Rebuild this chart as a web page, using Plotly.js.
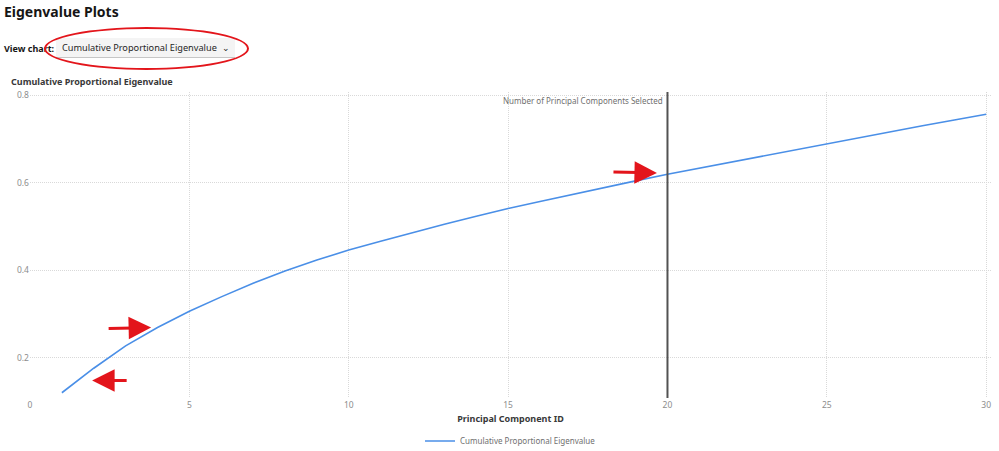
<!DOCTYPE html>
<html>
<head>
<meta charset="utf-8">
<script src="https://cdn.plot.ly/plotly-3.0.1.min.js"></script>
<style>
  body { margin: 0; background: #fff; font-family: "Noto Sans", sans-serif; }
  #wrap { position: relative; width: 999px; height: 451px; overflow: hidden; }
  #chart { position: absolute; left: 0; top: 0; width: 999px; height: 451px; }
  .hdr { position: absolute; z-index: 5; color: #161616; white-space: nowrap; }
  #pageTitle { left: 4px; top: 2px; font-size: 14px; font-weight: 700; }
  #viewLbl { left: 4px; top: 42px; font-size: 9px; font-weight: 700; }
  #dropdown { left: 56px; top: 38px; width: 179px; height: 20px; background: #f4f4f4;
              border-bottom: 1px solid #c6c6c6; font-size: 9.2px; line-height: 20px;
              padding-left: 6px; box-sizing: border-box; color: #262626; }
  #ring { position: absolute; z-index: 6; left: 44px; top: 27px; width: 205px; height: 43px;
          border: 2.5px solid #e3151b; border-radius: 50%; box-sizing: border-box; }
</style>
</head>
<body>
<div id="wrap">
  <div id="chart"></div>
  <div class="hdr" id="pageTitle">Eigenvalue Plots</div>
  <div class="hdr" id="viewLbl">View chart:</div>
  <div class="hdr" id="dropdown">Cumulative Proportional Eigenvalue &nbsp;&#8964;</div>
  <div id="ring"></div>
</div>
<script>
// principal component ids
var komponenty = [1,2,3,4,5,6,7,8,9,10,11,12,13,14,15,16,17,18,19,20,21,22,23,24,25,26,27,28,29,30]
// cumulative proportional eigenvalue
var skumulowane = [0.120,0.176,0.227,0.269,0.306,0.339,0.370,0.398,0.423,0.446,
                   0.466,0.486,0.505,0.523,0.541,0.557,0.573,0.589,0.604,0.619,
                   0.633,0.647,0.661,0.675,0.689,0.703,0.716,0.730,0.743,0.756]
var wybrane = 20
var nazwaSerii = 'Cumulative Proportional Eigenvalue'

var szary = '#8d8d8d'
var siatka = '#d9d9d9'
var czerwony = '#e3151b'

var seria = {
	type: 'scatter',
	mode: 'lines',
	name: nazwaSerii,
	x: komponenty,
	y: skumulowane,
	line: {color: '#4a8fe7', width: 1.6},
	showlegend: true
}

// red arrows drawn over the picture
function strzalka(x, y, ax, ay)
{
	return {xref: 'x', yref: 'y', x: x, y: y, ax: ax, ay: ay, text: '',
		showarrow: true, arrowhead: 2, arrowsize: 1.5, arrowwidth: 3,
		arrowcolor: czerwony, standoff: 0}
}

var layout = {
	width: 999,
	height: 451,
	margin: {l: 30, r: 8, t: 92, b: 53},
	paper_bgcolor: 'rgba(0,0,0,0)',
	plot_bgcolor: '#fff',
	font: {family: 'Noto Sans, sans-serif', color: szary, size: 8.5},
	title: {
		text: '<b>Cumulative Proportional Eigenvalue</b>',
		font: {size: 9, color: '#393939'},
		xref: 'container', x: 11/999, xanchor: 'left',
		yref: 'container', y: 1 - 82/451, yanchor: 'middle'
	},
	xaxis: {
		range: [0, 30.15],
		tick0: 0, dtick: 5,
		automargin: false,
		showgrid: true, gridcolor: siatka, griddash: '1px,1px', gridwidth: 1,
		zeroline: false, showline: false,
		ticks: '', ticklen: 0,
		tickfont: {size: 8.5, color: szary},
		title: {text: '<b>Principal Component ID</b>', font: {size: 9, color: '#393939'}, standoff: 7}
	},
	yaxis: {
		range: [0.108, 0.807],
		tick0: 0, dtick: 0.2,
		automargin: false,
		showgrid: true, gridcolor: siatka, griddash: '1px,1px', gridwidth: 1,
		zeroline: false, showline: false,
		ticks: '', ticklen: 0,
		tickfont: {size: 8.5, color: szary}
	},
	legend: {
		orientation: 'h',
		x: 0.5, xanchor: 'center',
		yref: 'container',
		y: 1 - 441/451, yanchor: 'middle',
		font: {size: 8, color: '#6f6f6f'}
	},
	shapes: [{
		type: 'line',
		xref: 'x', yref: 'paper',
		x0: wybrane, x1: wybrane, y0: 0, y1: 1,
		line: {color: '#525252', width: 2}
	}],
	annotations: [
		{
			xref: 'x', yref: 'paper',
			x: wybrane, y: 1, xanchor: 'right', yanchor: 'top',
			xshift: -2, yshift: -1,
			text: 'Number of Principal Components Selected',
			showarrow: false,
			font: {size: 8, color: '#6f6f6f'}
		},
		strzalka(3.8, 0.269, -44, 1),
		strzalka(1.95, 0.148, 36, 0),
		strzalka(19.67, 0.622, -45, -1)
	]
}

Plotly.newPlot('chart', [seria], layout, {displayModeBar: false, staticPlot: true})
</script>
</body>
</html>
